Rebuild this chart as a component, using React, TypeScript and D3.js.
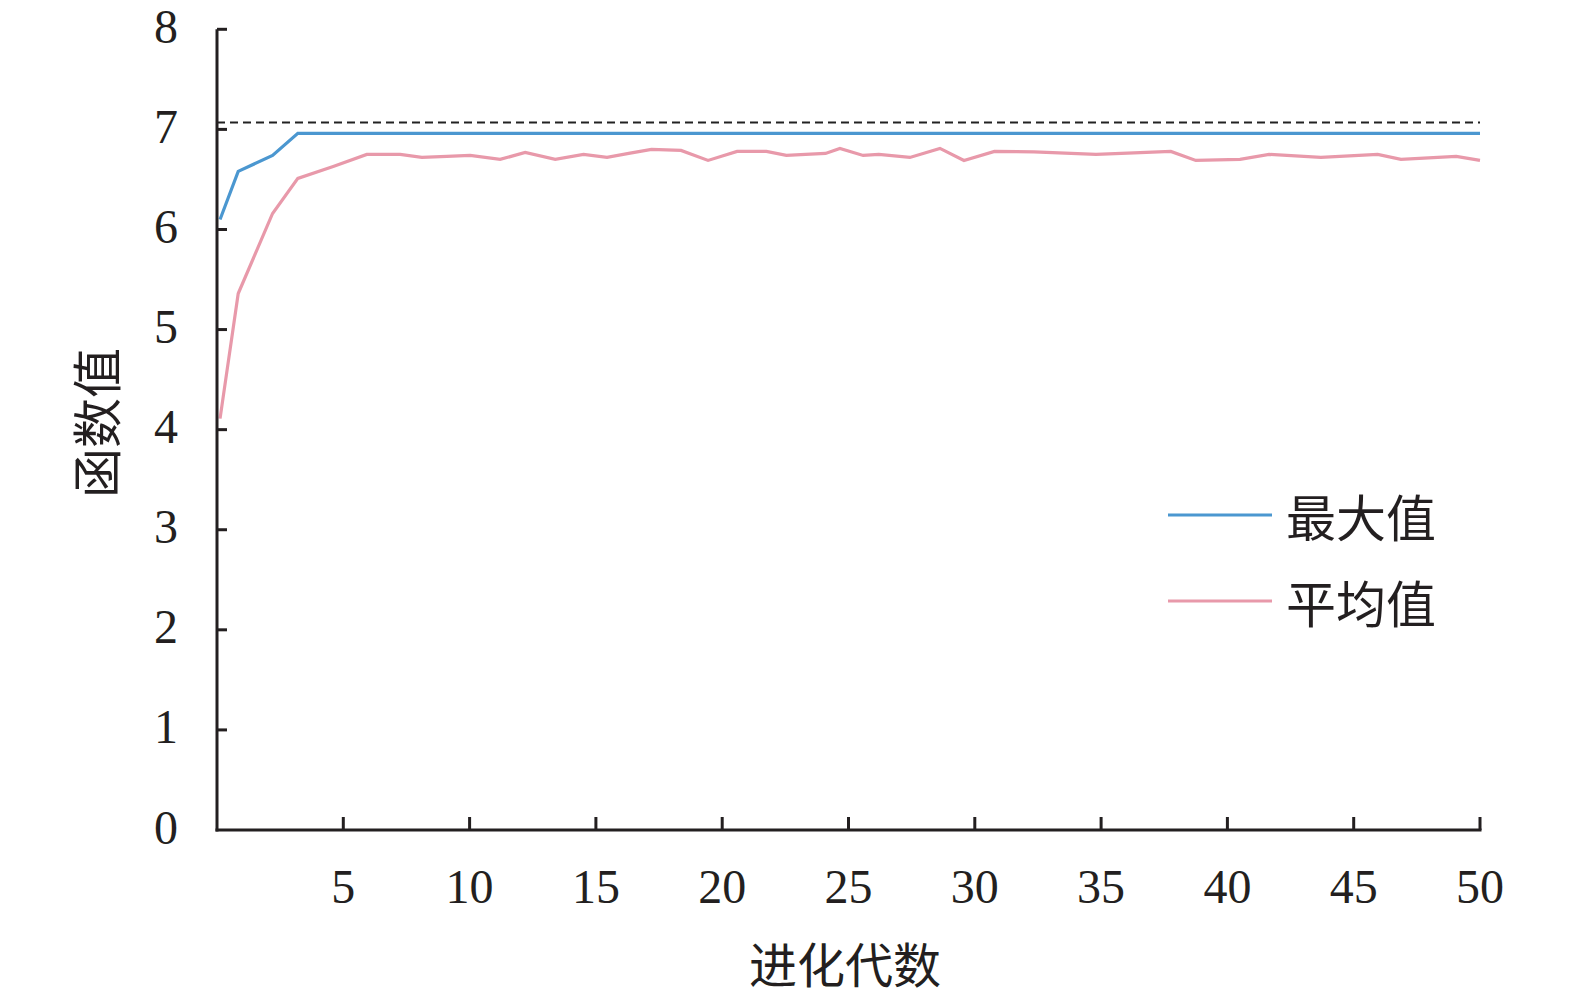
import React from "react";
import * as d3 from "d3";

const generations = [
  0.12, 0.84, 2.2, 3.2, 4.6, 5.93, 7.25, 8.11, 9.1, 10.02, 11.21, 12.2, 13.39, 14.51, 15.44,
  16.3, 17.2, 18.37, 19.44, 20.59, 21.75, 22.54, 23.3, 24.09, 24.66, 25.58, 26.2, 27.43,
  28.62, 29.57, 30.78, 32.34, 34.8, 36.3, 37.76, 38.75, 40.5, 41.65, 43.7, 45.95, 46.87,
  49.06, 50.0,
];
const maxValues = [
  6.1, 6.58, 6.74, 6.96, 6.96, 6.96, 6.96, 6.96, 6.96, 6.96, 6.96, 6.96, 6.96, 6.96, 6.96,
  6.96, 6.96, 6.96, 6.96, 6.96, 6.96, 6.96, 6.96, 6.96, 6.96, 6.96, 6.96, 6.96,
  6.96, 6.96, 6.96, 6.96, 6.96, 6.96, 6.96, 6.96, 6.96, 6.96, 6.96, 6.96, 6.96,
  6.96, 6.96,
];
const avgValues = [
  4.11, 5.36, 6.16, 6.51, 6.63, 6.75, 6.75, 6.72, 6.73, 6.74, 6.7, 6.77, 6.7, 6.75, 6.72,
  6.76, 6.8, 6.79, 6.69, 6.78, 6.78, 6.74, 6.75, 6.76, 6.81, 6.74, 6.75, 6.72,
  6.81, 6.69, 6.78, 6.775, 6.75, 6.765, 6.78, 6.69, 6.7, 6.75, 6.72, 6.75, 6.7,
  6.73, 6.69,
];
const referenceValue = 7.07;
const xTicks = [5, 10, 15, 20, 25, 30, 35, 40, 45, 50];
const yTicks = [0, 1, 2, 3, 4, 5, 6, 7, 8];
const seriesNames = ["最大值", "平均值"];
const seriesColors = ["#4B97D0", "#E899AA"];
const xTitle = "进化代数";
const yTitle = "函数值";

const W = 1575;
const H = 996;
const AXIS = "#231F20";
const SERIF = "'Liberation Serif', 'Times New Roman', serif";
const CJK = "'Noto Sans CJK SC', sans-serif";

export default function App() {
  const x = d3.scaleLinear().domain([0, 50]).range([217, 1480]);
  const y = d3.scaleLinear().domain([0, 8]).range([830, 29.3]);

  const line = d3
    .line<[number, number]>()
    .x((d) => x(d[0]))
    .y((d) => y(d[1]));

  const maxPts = generations.map((g, i) => [g, maxValues[i]] as [number, number]);
  const avgPts = generations.map((g, i) => [g, avgValues[i]] as [number, number]);

  const legendY = [515, 601];

  return (
    <svg
      width={W}
      height={H}
      style={{ position: "absolute", left: 0, top: 0, background: "#fff" }}
    >
      <rect x={0} y={0} width={W} height={H} fill="#fff" />
      <line
        x1={x(0)}
        x2={x(50)}
        y1={y(referenceValue)}
        y2={y(referenceValue)}
        stroke="#222"
        strokeWidth={2}
        strokeDasharray="8,5"
      />
      <path d={line(avgPts) || ""} fill="none" stroke={seriesColors[1]} strokeWidth={3.2} />
      <path d={line(maxPts) || ""} fill="none" stroke={seriesColors[0]} strokeWidth={3.2} />

      <line x1={x(0)} x2={x(0)} y1={y(0) + 1.5} y2={y(8)} stroke={AXIS} strokeWidth={3} />
      <line x1={x(0) - 1.5} x2={x(50) + 1.5} y1={y(0)} y2={y(0)} stroke={AXIS} strokeWidth={3} />
      {yTicks.map((t) => (
        <g key={"y" + t}>
          {t > 0 && (
            <line x1={x(0)} x2={x(0) + 10} y1={y(t)} y2={y(t)} stroke={AXIS} strokeWidth={3} />
          )}
          <text
            x={178}
            y={y(t) - 3}
            textAnchor="end"
            dominantBaseline="central"
            fontFamily={SERIF}
            fontSize={48}
            fill={AXIS}
          >
            {t}
          </text>
        </g>
      ))}
      {xTicks.map((t) => (
        <g key={"x" + t}>
          <line x1={x(t)} x2={x(t)} y1={y(0)} y2={y(0) - 13} stroke={AXIS} strokeWidth={3} />
          <text
            x={x(t)}
            y={903}
            textAnchor="middle"
            fontFamily={SERIF}
            fontSize={48}
            fill={AXIS}
          >
            {t}
          </text>
        </g>
      ))}

      <text
        x={845}
        y={962}
        textAnchor="middle"
        dominantBaseline="central"
        fontFamily={CJK}
        fontSize={48}
        fill={AXIS}
      >
        {xTitle}
      </text>
      <text
        transform={`translate(94,423) rotate(-90)`}
        textAnchor="middle"
        dominantBaseline="central"
        fontFamily={CJK}
        fontSize={50}
        fill={AXIS}
      >
        {yTitle}
      </text>

      {seriesNames.map((name, i) => (
        <g key={name}>
          <line
            x1={1168}
            x2={1272}
            y1={legendY[i]}
            y2={legendY[i]}
            stroke={seriesColors[i]}
            strokeWidth={3}
          />
          <text
            x={1286}
            y={legendY[i]}
            dominantBaseline="central"
            fontFamily={CJK}
            fontSize={50}
            fill={AXIS}
          >
            {name}
          </text>
        </g>
      ))}
    </svg>
  );
}
